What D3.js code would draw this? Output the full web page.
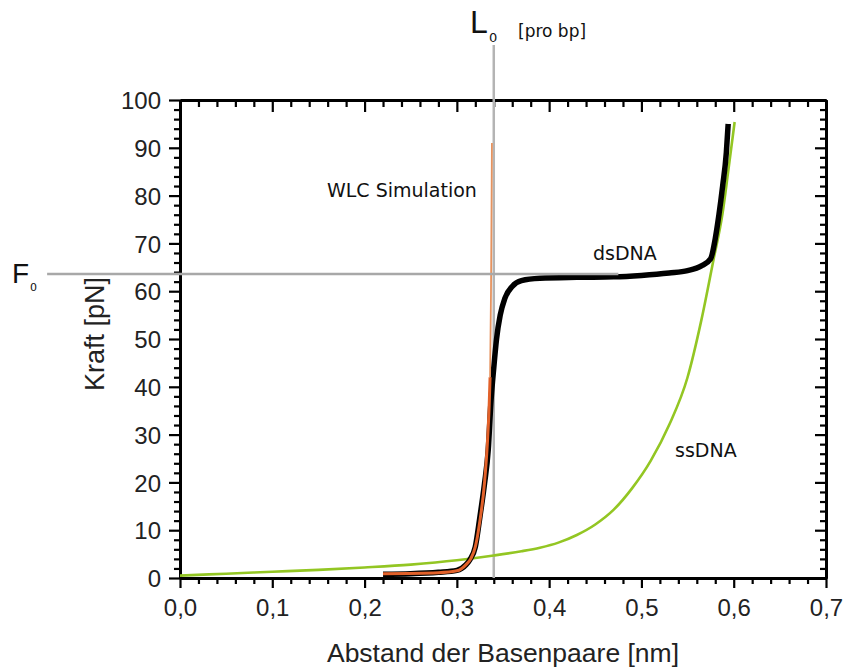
<!DOCTYPE html>
<html>
<head>
<meta charset="utf-8">
<script src="https://cdn.jsdelivr.net/npm/d3@7"></script>
<style>
  html, body { margin: 0; padding: 0; background: #fff; }
  svg { display: block; }
</style>
</head>
<body>
<svg id="chart" width="847" height="668"></svg>
<script>
// ---- data ----
const xTicks = [0, 0.1, 0.2, 0.3, 0.4, 0.5, 0.6, 0.7];
const xTickLabels = ["0,0", "0,1", "0,2", "0,3", "0,4", "0,5", "0,6", "0,7"];
const yTicks = [0, 10, 20, 30, 40, 50, 60, 70, 80, 90, 100];
const yTickLabels = ["0", "10", "20", "30", "40", "50", "60", "70", "80", "90", "100"];

// dsDNA measured curve [distance nm, force pN]
const dsDNA = [
  [0.22, 0.8], [0.25, 0.9], [0.28, 1.2], [0.30, 1.6], [0.31, 2.8], [0.314, 3.8],
  [0.32, 6.5], [0.325, 12.8], [0.33, 19.8], [0.334, 26.8], [0.337, 37], [0.340, 44],
  [0.343, 50], [0.347, 55], [0.352, 58.5], [0.36, 61], [0.37, 62.2], [0.39, 62.7],
  [0.43, 62.9], [0.47, 63.0], [0.50, 63.3], [0.53, 63.8], [0.55, 64.3], [0.565, 65.3],
  [0.575, 66.8], [0.58, 71], [0.584, 76], [0.588, 82], [0.592, 89], [0.594, 95]
];
// WLC simulation
const wlcLow = [
  [0.22, 0.9], [0.28, 1.1], [0.30, 1.5], [0.31, 2.8], [0.315, 4], [0.32, 6.5],
  [0.325, 12], [0.33, 20], [0.333, 28], [0.335, 36], [0.336, 42]
];
const wlcHigh = [[0.336, 42], [0.337, 60], [0.3375, 75], [0.338, 91]];
// ssDNA curve
const ssDNA = [
  [0, 0.5], [0.05, 0.9], [0.1, 1.3], [0.15, 1.7], [0.2, 2.2], [0.25, 2.8], [0.3, 3.7],
  [0.34, 4.7], [0.37, 5.6], [0.39, 6.35], [0.41, 7.4], [0.43, 9.0], [0.45, 11.2],
  [0.47, 14.3], [0.49, 18.8], [0.51, 24.5], [0.53, 32], [0.55, 42], [0.565, 54],
  [0.578, 66.5], [0.588, 76.4], [0.594, 85], [0.601, 95.4]
];
// reference lines
const L0 = 0.34, L0Top = 111.5;
const F0 = 63.6, F0Start = -0.144, F0End = 0.475;

// ---- layout ----
const svg = d3.select("#chart");
const x = d3.scaleLinear().domain([0, 0.7]).range([180, 826]);
const y = d3.scaleLinear().domain([0, 100]).range([578, 100]);
const tickFont = "'Liberation Sans', Arial, sans-serif";
const labelFont = "'DejaVu Sans', Verdana, sans-serif";

const xMinor = d3.range(0, 0.7001, 0.02).filter(v => xTicks.every(t => Math.abs(t - v) > 1e-6));
const yMinor = d3.range(0, 100.001, 2).filter(v => yTicks.every(t => Math.abs(t - v) > 1e-6));

function styleAxis(g) {
  g.select(".domain").attr("stroke", "#000").attr("stroke-width", 3);
  g.selectAll(".tick line").attr("stroke", "#000").attr("stroke-width", 2.2);
}

// bottom
svg.append("g").attr("transform", `translate(0,${y(0)})`)
  .call(d3.axisBottom(x).tickValues(xMinor).tickSize(6).tickFormat("").tickSizeOuter(0))
  .call(styleAxis);
svg.append("g").attr("transform", `translate(0,${y(0)})`)
  .call(d3.axisBottom(x).tickValues(xTicks).tickSize(10).tickSizeOuter(0)
    .tickFormat((d, i) => xTickLabels[i]))
  .call(styleAxis)
  .call(g => g.selectAll("text").attr("font-family", tickFont).attr("font-size", 24)
    .attr("fill", "#222").attr("dy", "1.05em"));
// top
svg.append("g").attr("transform", `translate(0,${y(100)})`)
  .call(d3.axisBottom(x).tickValues(xMinor).tickSize(7).tickFormat("").tickSizeOuter(0))
  .call(styleAxis);
svg.append("g").attr("transform", `translate(0,${y(100)})`)
  .call(d3.axisBottom(x).tickValues(xTicks).tickSize(12).tickFormat("").tickSizeOuter(0))
  .call(styleAxis);
// left
svg.append("g").attr("transform", `translate(${x(0)},0)`)
  .call(d3.axisLeft(y).tickValues(yMinor).tickSize(6).tickFormat("").tickSizeOuter(0))
  .call(styleAxis);
svg.append("g").attr("transform", `translate(${x(0)},0)`)
  .call(d3.axisLeft(y).tickValues(yTicks).tickSize(11).tickSizeOuter(0)
    .tickFormat((d, i) => yTickLabels[i]))
  .call(styleAxis)
  .call(g => g.selectAll("text").attr("font-family", tickFont).attr("font-size", 24)
    .attr("fill", "#222").attr("x", -19).attr("dy", "0.36em"));
// right
svg.append("g").attr("transform", `translate(${x(0.7)},0)`)
  .call(d3.axisLeft(y).tickValues(yMinor).tickSize(6).tickFormat("").tickSizeOuter(0))
  .call(styleAxis);
svg.append("g").attr("transform", `translate(${x(0.7)},0)`)
  .call(d3.axisLeft(y).tickValues(yTicks).tickSize(11).tickFormat("").tickSizeOuter(0))
  .call(styleAxis);

// axis titles
svg.append("text").attr("x", (x(0) + x(0.7)) / 2).attr("y", 662)
  .attr("text-anchor", "middle").attr("font-family", tickFont).attr("font-size", 26.5)
  .attr("fill", "#222").text("Abstand der Basenpaare [nm]");
svg.append("text").attr("transform", `translate(104,${y(50) - 5}) rotate(-90)`)
  .attr("text-anchor", "middle").attr("font-family", tickFont).attr("font-size", 27)
  .attr("fill", "#222").text("Kraft [pN]");

// L0 vertical reference line
svg.append("line").attr("x1", x(L0)).attr("x2", x(L0)).attr("y1", y(0)).attr("y2", y(L0Top))
  .attr("stroke", "#b4b4b4").attr("stroke-width", 2.5);

// curves
const line = d3.line().x(d => x(d[0])).y(d => y(d[1])).curve(d3.curveMonotoneX);
const lineY = d3.line().x(d => x(d[0])).y(d => y(d[1])).curve(d3.curveMonotoneY);

svg.append("path").datum(ssDNA).attr("d", line)
  .attr("fill", "none").attr("stroke", "#93c623").attr("stroke-width", 2.6);
svg.append("path").datum(dsDNA).attr("d", line)
  .attr("fill", "none").attr("stroke", "#000").attr("stroke-width", 5.5)
  .attr("stroke-linecap", "butt");
svg.append("path").datum(wlcLow).attr("d", line)
  .attr("fill", "none").attr("stroke", "#e2612a").attr("stroke-width", 3);
svg.append("path").datum(wlcHigh).attr("d", lineY)
  .attr("fill", "none").attr("stroke", "#e6935f").attr("stroke-width", 1.8);

// F0 horizontal reference line
svg.append("line").attr("x1", x(F0Start)).attr("x2", x(F0End)).attr("y1", y(F0)).attr("y2", y(F0))
  .attr("stroke", "#a8a8a8").attr("stroke-width", 2.5);

// annotations
svg.append("text").attr("x", 327).attr("y", 197).attr("font-family", labelFont)
  .attr("font-size", 19).attr("fill", "#111").text("WLC Simulation");
svg.append("text").attr("x", 593).attr("y", 260).attr("font-family", labelFont)
  .attr("font-size", 19).attr("fill", "#111").text("dsDNA");
svg.append("text").attr("x", 675).attr("y", 457).attr("font-family", labelFont)
  .attr("font-size", 19).attr("fill", "#111").text("ssDNA");

svg.append("text").attr("x", 470).attr("y", 33).attr("font-family", tickFont)
  .attr("font-size", 32).attr("fill", "#111").text("L");
svg.append("text").attr("x", 489).attr("y", 42).attr("font-family", labelFont)
  .attr("font-size", 13).attr("fill", "#111").text("0");
svg.append("text").attr("x", 518).attr("y", 37).attr("font-family", labelFont)
  .attr("font-size", 17).attr("fill", "#111").text("[pro bp]");

svg.append("text").attr("x", 12).attr("y", 283).attr("font-family", tickFont)
  .attr("font-size", 28).attr("fill", "#111").text("F");
svg.append("text").attr("x", 30).attr("y", 291).attr("font-family", labelFont)
  .attr("font-size", 11).attr("fill", "#111").text("0");
</script>
</body>
</html>
